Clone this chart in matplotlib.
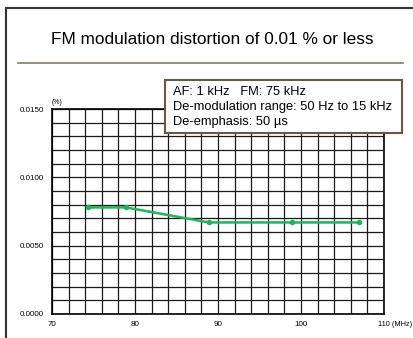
import matplotlib.pyplot as plt
from matplotlib.lines import Line2D
from matplotlib.patches import Rectangle

plt.rcParams['font.family'] = ['Liberation Sans', 'DejaVu Sans']

# measured points (MHz, %)
freq = [74.3, 78.9, 88.9, 98.9, 107.0]
dist = [0.0078, 0.0078, 0.0067, 0.0067, 0.0067]

x_ticks = [70, 80, 90, 100, 110]
x_labels = ['70', '80', '90', '100', '']   # last one drawn together with the unit
y_ticks = [0.0, 0.005, 0.010, 0.015]
y_labels = ['0.0000', '0.0050', '0.0100', '0.0150']

note_lines = ['AF: 1 kHz   FM: 75 kHz',
              'De-modulation range: 50 Hz to 15 kHz',
              'De-emphasis: 50 µs']

W, H = 414, 338
fig = plt.figure(figsize=(W / 100, H / 100), dpi=100)


def fx(px):
    return px / W


def fy(py):
    return 1 - py / H


# slide frame (left + top) and separator line
fig.add_artist(Line2D([fx(6), fx(6)], [0, fy(8)], color='#333333', lw=1.5))
fig.add_artist(Line2D([fx(6), 1], [fy(8), fy(8)], color='#333333', lw=1.5))
fig.add_artist(Line2D([fx(18), fx(403)], [fy(63), fy(63)], color='#8c7560', lw=1.2))

fig.text(fx(212), fy(40), 'FM modulation distortion of 0.01 % or less',
         ha='center', va='center', fontsize=12.4)

ax = fig.add_axes([fx(52), fy(314), fx(384) - fx(52), fy(109) - fy(314)])
ax.set_xlim(70, 110)
ax.set_ylim(0, 0.015)

# grid every 2 MHz and 0.001 %
for gx in range(70, 111, 2):
    ax.axvline(gx, color='#1a1a1a', lw=0.9, zorder=1)
for i in range(16):
    ax.axhline(i * 0.001, color='#1a1a1a', lw=0.9, zorder=1)

ax.plot(freq, dist, color='#1db45a', lw=1.8, marker='o', markersize=3, zorder=3)

ax.set_xticks(x_ticks)
ax.set_xticklabels(x_labels)
ax.set_yticks(y_ticks)
ax.set_yticklabels(y_labels)
ax.tick_params(length=0, labelsize=5.8)
ax.tick_params(axis='y', pad=5.5)
ax.tick_params(axis='x', pad=5)
for s in ax.spines.values():
    s.set_linewidth(1.2)

fig.text(fx(378), fy(324), '110 (MHz)', fontsize=5.3, va='center', ha='left')
fig.text(fx(52), fy(102), '(%)', fontsize=5, va='center', ha='left')

# note box
fig.add_artist(Rectangle((fx(165), fy(133)), fx(402) - fx(165), fy(80) - fy(133),
                         transform=fig.transFigure, fc='white', ec='#6b5645', lw=1.5, zorder=5))
for i, line in enumerate(note_lines):
    fig.text(fx(173), fy(92 + i * 14.8), line, fontsize=9.3, va='center', ha='left', zorder=6)

fig.savefig('out.png', dpi=100)
